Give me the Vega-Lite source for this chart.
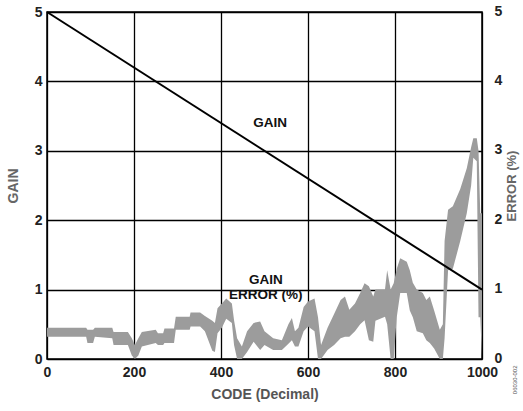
{
  "$schema": "https://vega.github.io/schema/vega-lite/v6.json",
  "width": 435,
  "height": 347,
  "autosize": {"type": "none"},
  "padding": {"left": 47, "top": 12, "right": 41, "bottom": 52},
  "background": "white",
  "config": {
    "view": {"stroke": "black", "strokeWidth": 1.5},
    "font": "Liberation Sans",
    "axis": {
      "domain": false,
      "ticks": false,
      "labelFont": "Liberation Sans",
      "labelFontWeight": "bold",
      "labelFontSize": 14,
      "labelColor": "#222",
      "titleFont": "Liberation Sans",
      "titleFontWeight": "bold",
      "titleFontSize": 14,
      "titleColor": "#666",
      "gridColor": "black",
      "gridOpacity": 1,
      "gridWidth": 1.3,
      "zindex": 1
    }
  },
  "datasets": {
    "error": [
      {"code": 0, "lo": 0.32, "hi": 0.45},
      {"code": 90, "lo": 0.32, "hi": 0.45},
      {"code": 93, "lo": 0.23, "hi": 0.42},
      {"code": 106, "lo": 0.23, "hi": 0.42},
      {"code": 110, "lo": 0.32, "hi": 0.45},
      {"code": 150, "lo": 0.30, "hi": 0.45},
      {"code": 153, "lo": 0.20, "hi": 0.39},
      {"code": 186, "lo": 0.20, "hi": 0.39},
      {"code": 195, "lo": 0.05, "hi": 0.30},
      {"code": 202, "lo": 0.0, "hi": 0.20},
      {"code": 210, "lo": 0.05, "hi": 0.30},
      {"code": 218, "lo": 0.18, "hi": 0.39},
      {"code": 250, "lo": 0.23, "hi": 0.42},
      {"code": 255, "lo": 0.20, "hi": 0.37},
      {"code": 267, "lo": 0.20, "hi": 0.37},
      {"code": 270, "lo": 0.23, "hi": 0.44},
      {"code": 292, "lo": 0.23, "hi": 0.44},
      {"code": 296, "lo": 0.42, "hi": 0.61},
      {"code": 328, "lo": 0.42, "hi": 0.61},
      {"code": 330, "lo": 0.47, "hi": 0.67},
      {"code": 352, "lo": 0.47, "hi": 0.67},
      {"code": 363, "lo": 0.40, "hi": 0.62},
      {"code": 380, "lo": 0.12, "hi": 0.55},
      {"code": 386, "lo": 0.10, "hi": 0.52},
      {"code": 392, "lo": 0.37, "hi": 0.73},
      {"code": 402, "lo": 0.45, "hi": 0.80},
      {"code": 412, "lo": 0.58, "hi": 0.87},
      {"code": 425, "lo": 0.52, "hi": 0.80},
      {"code": 430, "lo": 0.20, "hi": 0.56},
      {"code": 437, "lo": 0.0, "hi": 0.30},
      {"code": 448, "lo": 0.0, "hi": 0.18},
      {"code": 460, "lo": 0.10, "hi": 0.40},
      {"code": 475, "lo": 0.25, "hi": 0.52},
      {"code": 490, "lo": 0.13, "hi": 0.54},
      {"code": 500, "lo": 0.20, "hi": 0.40},
      {"code": 520, "lo": 0.13, "hi": 0.30},
      {"code": 540, "lo": 0.13, "hi": 0.27},
      {"code": 555, "lo": 0.22, "hi": 0.50},
      {"code": 563, "lo": 0.27, "hi": 0.59},
      {"code": 570, "lo": 0.18, "hi": 0.40},
      {"code": 578, "lo": 0.18, "hi": 0.45},
      {"code": 590, "lo": 0.40, "hi": 0.75},
      {"code": 600, "lo": 0.47, "hi": 0.83},
      {"code": 615, "lo": 0.40, "hi": 0.87},
      {"code": 623, "lo": 0.0, "hi": 0.60},
      {"code": 630, "lo": 0.0, "hi": 0.20},
      {"code": 645, "lo": 0.13, "hi": 0.45},
      {"code": 660, "lo": 0.20, "hi": 0.65},
      {"code": 675, "lo": 0.30, "hi": 0.85},
      {"code": 685, "lo": 0.32, "hi": 0.90},
      {"code": 695, "lo": 0.32, "hi": 0.71},
      {"code": 708, "lo": 0.40, "hi": 0.80},
      {"code": 720, "lo": 0.50, "hi": 0.95},
      {"code": 730, "lo": 0.56, "hi": 1.09},
      {"code": 740, "lo": 0.27, "hi": 1.05},
      {"code": 750, "lo": 0.25, "hi": 0.90},
      {"code": 755, "lo": 0.55, "hi": 1.00},
      {"code": 777, "lo": 0.61, "hi": 1.00},
      {"code": 782, "lo": 0.50, "hi": 1.28},
      {"code": 790, "lo": 0.0, "hi": 1.00},
      {"code": 797, "lo": 0.0, "hi": 1.09},
      {"code": 804, "lo": 0.60, "hi": 1.30},
      {"code": 812, "lo": 0.95, "hi": 1.45},
      {"code": 827, "lo": 0.95, "hi": 1.40},
      {"code": 834, "lo": 0.70, "hi": 1.28},
      {"code": 841, "lo": 0.60, "hi": 1.10},
      {"code": 850, "lo": 0.40, "hi": 1.00},
      {"code": 864, "lo": 0.37, "hi": 0.95},
      {"code": 872, "lo": 0.27, "hi": 0.85},
      {"code": 880, "lo": 0.23, "hi": 0.90},
      {"code": 890, "lo": 0.15, "hi": 0.70},
      {"code": 903, "lo": 0.0, "hi": 0.42},
      {"code": 910, "lo": 0.0, "hi": 0.50},
      {"code": 914, "lo": 0.30, "hi": 1.70},
      {"code": 922, "lo": 1.28, "hi": 2.15},
      {"code": 933, "lo": 1.30, "hi": 2.20},
      {"code": 950, "lo": 1.70, "hi": 2.45},
      {"code": 965, "lo": 2.10, "hi": 2.75},
      {"code": 975, "lo": 2.50, "hi": 3.05},
      {"code": 980, "lo": 2.90, "hi": 3.18},
      {"code": 988, "lo": 2.85, "hi": 3.18},
      {"code": 992, "lo": 0.60, "hi": 3.00},
      {"code": 996, "lo": 0.60, "hi": 2.10},
      {"code": 1000, "lo": 0.0, "hi": 2.10}
    ],
    "gain": [
      {"code": 0, "gain": 5},
      {"code": 1000, "gain": 1}
    ],
    "labels": [
      {"code": 513, "v": 3.4, "text": ["GAIN"]},
      {"code": 503, "v": 1.14, "text": ["GAIN", "ERROR (%)"]}
    ],
    "figid": [
      {"code": 1077, "v": -0.3, "text": "06030-002"}
    ]
  },
  "encoding": {
    "x": {
      "field": "code",
      "type": "quantitative",
      "scale": {"domain": [0, 1000], "nice": false},
      "axis": {
        "title": "CODE (Decimal)",
        "values": [0, 200, 400, 600, 800, 1000],
        "format": "d",
        "labelPadding": 6,
        "titlePadding": 8,
        "titleColor": "#555",
        "labelFlush": false,
        "grid": true
      }
    }
  },
  "layer": [
    {
      "data": {"name": "error"},
      "mark": {"type": "area", "color": "#9c9c9c", "interpolate": "linear"},
      "encoding": {
        "y": {
          "field": "hi",
          "type": "quantitative",
          "scale": {"domain": [0, 5], "nice": false},
          "axis": {
            "orient": "right",
            "title": "ERROR (%)",
            "titleAngle": -90,
            "titleBaseline": "top",
            "titleFontSize": 13,
            "values": [0, 1, 2, 3, 4, 5],
            "grid": false,
            "labelPadding": 12,
            "labelBaseline": "bottom",
            "labelOffset": 6,
            "titlePadding": 4
          }
        },
        "y2": {"field": "lo"}
      }
    },
    {
      "data": {"name": "gain"},
      "mark": {"type": "line", "color": "black", "strokeWidth": 2},
      "encoding": {
        "y": {
          "field": "gain",
          "type": "quantitative",
          "scale": {"domain": [0, 5], "nice": false},
          "axis": {
            "orient": "left",
            "title": "GAIN",
            "values": [0, 1, 2, 3, 4, 5],
            "grid": true,
            "labelPadding": 5,
            "titlePadding": 14
          }
        }
      }
    },
    {
      "data": {"name": "labels"},
      "mark": {"type": "text", "font": "Liberation Sans", "fontWeight": "bold", "fontSize": 13.5, "lineHeight": 15, "color": "#111", "baseline": "middle", "align": "center"},
      "encoding": {
        "y": {"field": "v", "type": "quantitative", "scale": {"domain": [0, 5], "nice": false}, "axis": null},
        "text": {"field": "text"}
      }
    },
    {
      "data": {"name": "figid"},
      "mark": {"type": "text", "font": "Liberation Sans", "fontSize": 6, "color": "#555", "angle": 270, "baseline": "middle", "align": "center"},
      "encoding": {
        "y": {"field": "v", "type": "quantitative", "scale": {"domain": [0, 5], "nice": false}, "axis": null},
        "text": {"field": "text"}
      }
    }
  ],
  "resolve": {"scale": {"y": "independent"}, "axis": {"y": "independent"}}
}
